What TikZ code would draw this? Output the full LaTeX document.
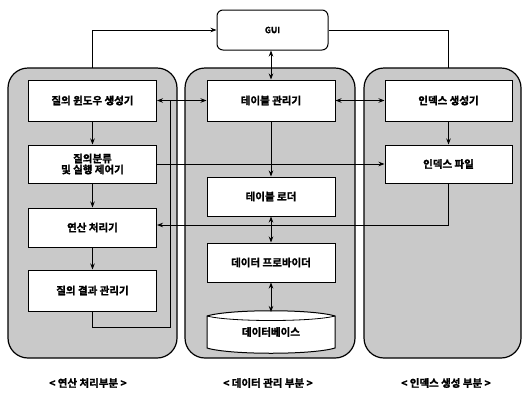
\documentclass[tikz,border=0pt]{standalone}
\usepackage{fontspec}
\newfontfamily\kr{Noto Sans CJK KR Bold}[FakeBold=1.5]
\usetikzlibrary{arrows.meta}
\tikzset{
  grp/.style={draw=black, line width=1.2pt, fill=gray!42, rounded corners=20pt},
  bx/.style={draw=black, line width=1pt, fill=white, minimum height=40pt, minimum width=128pt, inner sep=0pt, font=\kr\fontsize{10.5}{12}\selectfont, align=center},
  con/.style={line width=0.8pt},
  ar/.style={con, -{Stealth[length=6pt,width=4.5pt]}},
  bar/.style={con, {Stealth[length=6pt,width=4.5pt]}-{Stealth[length=6pt,width=4.5pt]}},
  lbl/.style={font=\kr\fontsize{10.5}{12}\selectfont}
}
\begin{document}
\begin{tikzpicture}[x=1pt,y=-1pt]
\useasboundingbox (0,0) rectangle (529,394);
\fill[white] (0,0) rectangle (529,394);
% groups
\draw[grp] (8,68) rectangle (177,358);
\draw[grp] (185,68) rectangle (355,358);
\draw[grp] (364,68) rectangle (521,358);
\node[inner sep=0pt, minimum size=0pt] (grpL) at (92.5,68) {};
\node[inner sep=0pt, minimum size=0pt] (grpR) at (448.5,68) {};
% GUI
\node[draw, line width=1pt, fill=white, rounded corners=6pt, minimum width=111pt, minimum height=40pt, font=\kr\fontsize{8.5}{10}\selectfont] (gui) at (272.5,30) {GUI};
% left boxes
\node[bx, minimum height=41pt] (q1) at (92.5,100.5) {질의 윈도우 생성기};
\node[bx, minimum height=38pt] (q2) at (92.5,164) {질의분류\\[-1pt]및 실행 제어기};
\node[bx, minimum height=39pt] (q3) at (92.5,227.5) {연산 처리기};
\node[bx, minimum height=41pt] (q4) at (92.5,290.5) {질의 결과 관리기};
% middle boxes
\node[bx, minimum height=41pt] (m1) at (271,100.5) {테이블 관리기};
\node[bx, minimum height=39pt] (m2) at (271,196.5) {테이블 로더};
\node[bx, minimum height=39pt] (m3) at (271,262.5) {데이터 프로바이더};
% database cylinder
\draw[line width=1pt, fill=white] (207,316) .. controls (230,309) and (312,309) .. (335,316) -- (335,348) .. controls (312,355) and (230,355) .. (207,348) -- cycle;
\draw[line width=0.8pt] (207,316) .. controls (230,322) and (312,322) .. (335,316);
\node[inner sep=0pt, minimum width=128pt, minimum height=40pt, font=\kr\fontsize{10.5}{12}\selectfont] (db) at (271,332) {데이터베이스};
% right boxes
\node[bx, minimum width=127pt, minimum height=41pt] (r1) at (448.5,100.5) {인덱스 생성기};
\node[bx, minimum width=127pt, minimum height=38pt] (r2) at (448.5,164) {인덱스 파일};
% connectors
\draw[ar] (grpL.north) |- (gui.west);
\draw[con] (gui.east) -| (grpR.north);
\draw[bar] (m1.north |- gui.south) -- (m1.north);
\draw[bar] (q1.east) -- (m1.west);
\draw[bar] (m1.east) -- (r1.west);
\draw[ar] (m1.south) -- (m2.north);
\draw[ar] (q2.east) -- (r2.west);
\draw[ar] (r1.south) -- (r2.north);
\coordinate (turn) at (448.5,225);
\draw[ar] (r2.south) -- (turn) -- (turn -| q3.east);
\draw[bar] (m2.south) -- (m3.north);
\draw[bar] (m3.south) -- (271,312);
\draw[ar] (q1.south) -- (q2.north);
\draw[ar] (q2.south) -- (q3.north);
\draw[ar] (q3.south) -- (q4.north);
\coordinate (fb) at (170,327);
\draw[con] (q4.south) |- (fb) -- (fb |- q1.east);
% labels
\node[lbl] (lblL) at (88,383) {< 연산 처리부분 >};
\node[lbl] (lblM) at (268,383) {< 데이터 관리 부분 >};
\node[lbl] (lblR) at (446,383) {< 인덱스 생성 부분 >};
\end{tikzpicture}
\end{document}
